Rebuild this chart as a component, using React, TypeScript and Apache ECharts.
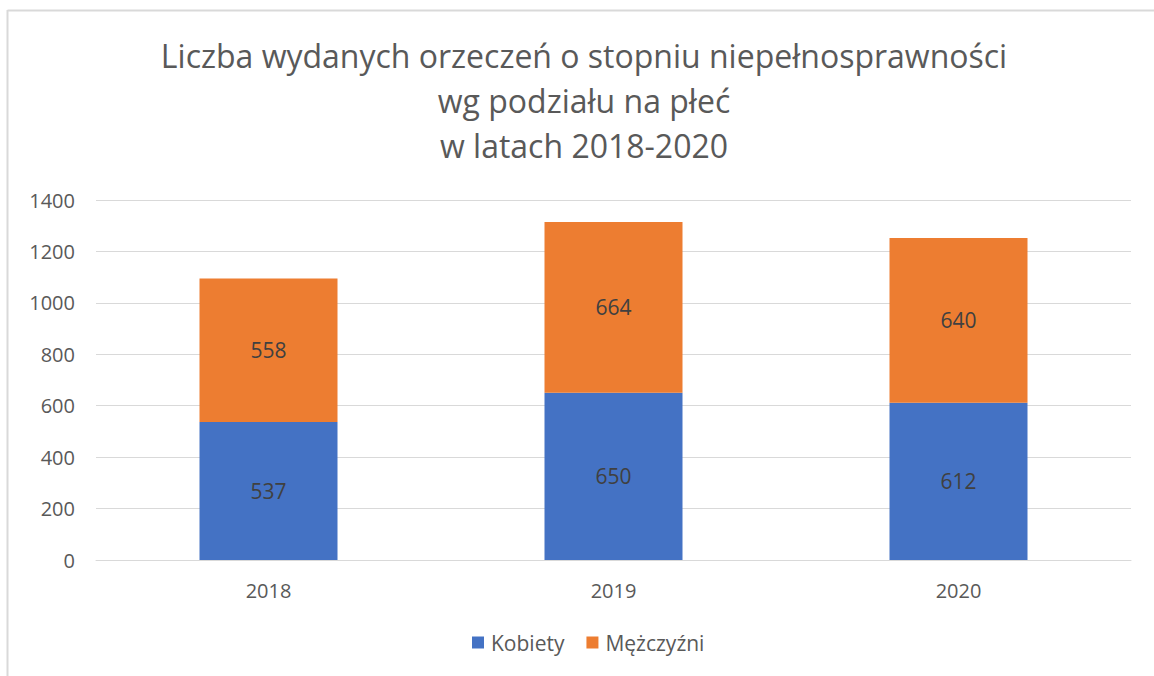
import React, { useEffect, useRef } from "react";
import * as echarts from "echarts";

const years = ["2018", "2019", "2020"];
const kobiety = [537, 650, 612];
const mezczyzni = [558, 664, 640];
const titleLines = [
  "Liczba wydanych orzeczeń o stopniu niepełnosprawności",
  "wg podziału na płeć",
  "w latach 2018-2020",
];

const FONT = "'Open Sans', sans-serif";

export default function App() {
  const ref = useRef<HTMLDivElement>(null);
  useEffect(() => {
    if (!ref.current) return;
    const chart = echarts.init(ref.current, null, { renderer: "svg" });
    const label = {
      show: true,
      position: "inside",
      color: "#404040",
      fontSize: 21,
      fontFamily: FONT,
    };
    chart.setOption({
      animation: false,
      backgroundColor: "#fff",
      title: {
        text: titleLines.join("\n"),
        left: 579,
        textAlign: "center",
        top: 28,
        textStyle: {
          fontSize: 32,
          fontWeight: "normal",
          color: "#595959",
          fontFamily: FONT,
          lineHeight: 45,
        },
      },
      graphic: [
        {
          type: "line",
          shape: { x1: 7.5, y1: 10.5, x2: 1160, y2: 10.5 },
          style: { stroke: "#d9d9d9", lineWidth: 2 },
        },
        {
          type: "line",
          shape: { x1: 7.5, y1: 10, x2: 7.5, y2: 680 },
          style: { stroke: "#d9d9d9", lineWidth: 2 },
        },
      ],
      legend: {
        bottom: 18,
        left: 467,
        itemWidth: 12,
        itemHeight: 12,
        itemGap: 22,
        icon: "rect",
        textStyle: { fontSize: 21, color: "#595959", fontFamily: FONT, padding: [0, 0, 0, 2] },
        data: ["Kobiety", "Mężczyźni"],
      },
      grid: { left: 96, right: 23, top: 200, bottom: 116 },
      xAxis: {
        type: "category",
        data: years,
        axisLine: { lineStyle: { color: "#d9d9d9", width: 1 } },
        axisTick: { show: false },
        axisLabel: {
          fontSize: 20,
          color: "#595959",
          fontFamily: FONT,
          margin: 20,
        },
      },
      yAxis: {
        type: "value",
        min: 0,
        max: 1400,
        interval: 200,
        axisLine: { show: false },
        axisTick: { show: false },
        splitLine: { lineStyle: { color: "#d9d9d9", width: 1 } },
        axisLabel: {
          fontSize: 20,
          color: "#595959",
          fontFamily: FONT,
          margin: 21,
          formatter: (v: number) => String(v),
        },
      },
      series: [
        {
          name: "Kobiety",
          type: "bar",
          stack: "total",
          data: kobiety,
          barWidth: "40%",
          itemStyle: { color: "#4472C4" },
          label,
        },
        {
          name: "Mężczyźni",
          type: "bar",
          stack: "total",
          data: mezczyzni,
          barWidth: "40%",
          itemStyle: { color: "#ED7D31" },
          label,
        },
      ],
    });
    return () => chart.dispose();
  }, []);
  return (
    <div
      ref={ref}
      style={{ position: "fixed", left: 0, top: 0, width: 1154, height: 676 }}
    />
  );
}
